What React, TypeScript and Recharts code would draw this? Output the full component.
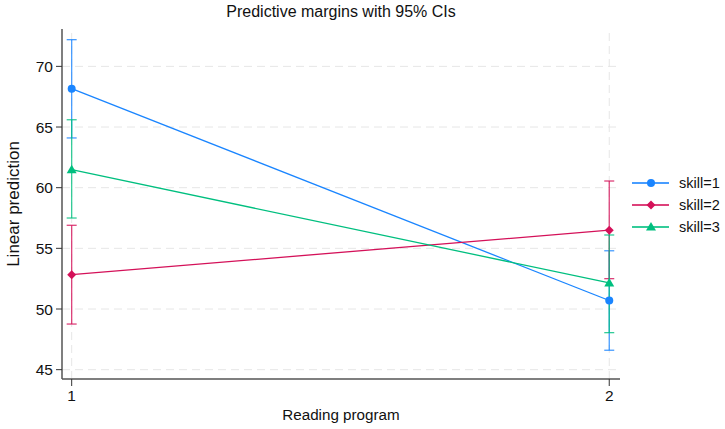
import React from 'react';
import { ComposedChart, Line, XAxis, YAxis, ReferenceLine, ErrorBar } from 'recharts';

document.body.style.margin = '0';

// Reading program levels
const programs = [1, 2];

// Predicted margins and 95% CI bounds per skill level
const skill1 = [68.16, 50.7];
const skill1Lo = [64.1, 46.6];
const skill1Hi = [72.2, 54.8];

const skill2 = [52.83, 56.5];
const skill2Lo = [48.76, 52.5];
const skill2Hi = [56.9, 60.55];

const skill3 = [61.48, 52.15];
const skill3Lo = [57.5, 48.05];
const skill3Hi = [65.6, 56.1];

const yTicks = [45, 50, 55, 60, 65, 70];
const xTicks = [1, 2];

const COLORS = ['#1a85ff', '#d41159', '#00bf7f'];
const FONT = '"Liberation Sans", Arial, Helvetica, sans-serif';
const GRID = '#e6e6e6';
const TICK_FONT = 15.5;

const chartData = programs.map((p, i) => ({
  program: p,
  s1: skill1[i],
  e1: [skill1[i] - skill1Lo[i], skill1Hi[i] - skill1[i]],
  s2: skill2[i],
  e2: [skill2[i] - skill2Lo[i], skill2Hi[i] - skill2[i]],
  s3: skill3[i],
  e3: [skill3[i] - skill3Lo[i], skill3Hi[i] - skill3[i]],
}));

function Marker({ shape, cx, cy, color }: { shape: string; cx: number; cy: number; color: string }) {
  if (shape === 'diamond') {
    return <polygon points={`${cx},${cy - 4.5} ${cx + 4.5},${cy} ${cx},${cy + 4.5} ${cx - 4.5},${cy}`} fill={color} />;
  }
  if (shape === 'triangle') {
    return <polygon points={`${cx},${cy - 5} ${cx + 5},${cy + 3.5} ${cx - 5},${cy + 3.5}`} fill={color} />;
  }
  return <circle cx={cx} cy={cy} r={4} fill={color} />;
}

const makeDot = (shape: string, color: string) => (props: any) => (
  <g key={`${shape}-${props.index}`}>
    <Marker shape={shape} cx={props.cx} cy={props.cy} color={color} />
  </g>
);

const YTick = (props: any) => (
  <text x={props.x} y={props.y} dy="0.36em" textAnchor="end" fontSize={TICK_FONT} fill="#111" fontFamily={FONT}>
    {props.payload.value}
  </text>
);

const XTick = (props: any) => (
  <text x={props.x} y={props.y} dy="0.85em" textAnchor="middle" fontSize={TICK_FONT} fill="#111" fontFamily={FONT}>
    {props.payload.value}
  </text>
);

const YLabel = (props: any) => {
  const vb = props.viewBox;
  const cx = 13;
  const cy = vb.y + vb.height / 2;
  return (
    <text
      x={cx}
      y={cy}
      transform={`rotate(-90, ${cx}, ${cy})`}
      textAnchor="middle"
      dy="0.36em"
      fontSize={17}
      fill="#111"
      fontFamily={FONT}
    >
      Linear prediction
    </text>
  );
};

const XLabel = (props: any) => {
  const vb = props.viewBox;
  return (
    <text x={vb.x + vb.width / 2} y={420} textAnchor="middle" fontSize={15.2} fill="#111" fontFamily={FONT}>
      Reading program
    </text>
  );
};

const series = [
  { key: 's1', err: 'e1', name: 'skill=1', shape: 'circle', color: COLORS[0] },
  { key: 's2', err: 'e2', name: 'skill=2', shape: 'diamond', color: COLORS[1] },
  { key: 's3', err: 'e3', name: 'skill=3', shape: 'triangle', color: COLORS[2] },
];

export default function App() {
  return (
    <div style={{ position: 'relative', width: 725, height: 429, background: '#fff', fontFamily: FONT }}>
      <div
        style={{
          position: 'absolute',
          top: 3,
          left: 62,
          width: 558,
          textAlign: 'center',
          fontSize: 16,
          color: '#111',
        }}
      >
        Predictive margins with 95% CIs
      </div>
      <ComposedChart
        width={725}
        height={429}
        data={chartData}
        margin={{ top: 29, right: 105, bottom: 0, left: 0 }}
        style={{ fontFamily: FONT }}
      >
        {yTicks.map((t) => (
          <ReferenceLine key={`gy${t}`} y={t} stroke={GRID} strokeDasharray="8 5" />
        ))}
        {xTicks.map((t) => (
          <ReferenceLine key={`gx${t}`} x={t} stroke={GRID} strokeDasharray="8 5" />
        ))}
        <XAxis
          dataKey="program"
          type="number"
          domain={[0.982, 2.02]}
          ticks={xTicks}
          height={50}
          tickSize={7}
          tickMargin={2}
          tick={<XTick />}
          axisLine={{ stroke: '#555', strokeWidth: 1.5 }}
          tickLine={{ stroke: '#333' }}
          label={<XLabel />}
        />
        <YAxis
          type="number"
          domain={[44.23, 73.08]}
          ticks={yTicks}
          width={62}
          tickSize={6}
          tickMargin={3}
          tick={<YTick />}
          axisLine={{ stroke: '#555', strokeWidth: 1.5 }}
          tickLine={{ stroke: '#333' }}
          label={<YLabel />}
        />
        {series.map((s) => (
          <Line
            key={s.key}
            dataKey={s.key}
            name={s.name}
            type="linear"
            stroke={s.color}
            strokeWidth={1.3}
            dot={makeDot(s.shape, s.color)}
            activeDot={false}
            isAnimationActive={false}
          >
            <ErrorBar dataKey={s.err} direction="y" width={5} stroke={s.color} strokeWidth={1.3} strokeOpacity={0.8} />
          </Line>
        ))}
      </ComposedChart>
      <div style={{ position: 'absolute', left: 632, top: 172, fontSize: 14.5, color: '#111' }}>
        {series.map((s) => (
          <div key={s.key} style={{ display: 'flex', alignItems: 'center', height: 22 }}>
            <svg width={38} height={12} style={{ marginRight: 9 }}>
              <line x1={0} y1={6} x2={37} y2={6} stroke={s.color} strokeWidth={2} strokeOpacity={0.8} />
              <Marker shape={s.shape} cx={19} cy={6} color={s.color} />
            </svg>
            <span>{s.name}</span>
          </div>
        ))}
      </div>
    </div>
  );
}
